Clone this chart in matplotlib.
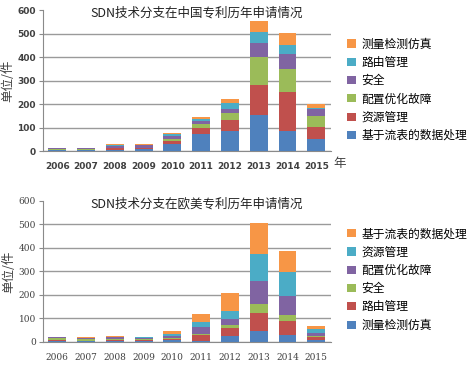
import numpy as np
import matplotlib
matplotlib.use('Agg')
import matplotlib.pyplot as plt

plt.rcParams['font.family'] = ['Noto Sans CJK SC', 'DejaVu Sans']
plt.rcParams['axes.unicode_minus'] = False

years = ['2006', '2007', '2008', '2009', '2010', '2011', '2012', '2013', '2014', '2015']
colors = ['#4F81BD', '#C0504D', '#9BBB59', '#8064A2', '#4BACC6', '#F79646']

# 中国（自下而上）
cn_names = ['基于流表的数据处理', '资源管理', '配置优化故障', '安全', '路由管理', '测量检测仿真']
cn_flow = [4, 4, 6, 8, 32, 72, 86, 152, 86, 53]
cn_res = [2, 2, 6, 3, 12, 24, 48, 127, 165, 50]
cn_cfg = [2, 2, 3, 4, 8, 21, 28, 120, 99, 47]
cn_sec = [5, 5, 8, 10, 12, 11, 16, 61, 61, 28]
cn_route = [1, 1, 2, 2, 8, 9, 27, 48, 41, 6]
cn_meas = [1, 1, 3, 1, 6, 8, 18, 47, 49, 18]

# 欧美（自下而上）
eu_names = ['测量检测仿真', '路由管理', '安全', '配置优化故障', '资源管理', '基于流表的数据处理']
eu_meas = [3, 3, 4, 5, 8, 5, 23, 48, 30, 8]
eu_route = [3, 2, 6, 3, 4, 25, 35, 76, 60, 12]
eu_sec = [10, 9, 3, 3, 3, 5, 14, 37, 25, 4]
eu_cfg = [3, 3, 6, 6, 12, 28, 24, 99, 80, 15]
eu_res = [2, 1, 3, 2, 8, 22, 37, 114, 103, 14]
eu_flow = [1, 2, 3, 2, 10, 33, 74, 132, 88, 15]

cn_data = [cn_flow, cn_res, cn_cfg, cn_sec, cn_route, cn_meas]
eu_data = [eu_meas, eu_route, eu_sec, eu_cfg, eu_res, eu_flow]

fig = plt.figure(figsize=(4.71, 3.72), dpi=100)
ax1 = fig.add_axes([0.091, 0.594, 0.611, 0.379])
ax2 = fig.add_axes([0.091, 0.081, 0.611, 0.379])

x = np.arange(len(years))


def draw(ax, data, names, title, tick_font, legend_top):
    bottom = np.zeros(len(years))
    handles = []
    for vals, c, n in zip(data, colors, names):
        b = ax.bar(x, vals, 0.62, bottom=bottom, color=c, label=n, zorder=3)
        handles.append(b)
        bottom += np.array(vals)
    ax.set_xlim(-0.5, 9.5)
    ax.set_ylim(0, 600)
    ax.set_yticks(range(0, 601, 100))
    ax.set_xticks(x)
    bold = 'bold' if tick_font == 'DejaVu Sans' else 'normal'
    ax.set_xticklabels(years, fontsize=6.5, family=tick_font,
                       fontweight=bold, color='#404040')
    for lab in ax.get_yticklabels():
        lab.set_fontsize(6.5)
        lab.set_family(tick_font)
        lab.set_color('#404040')
        lab.set_fontweight(bold)
    ax.grid(axis='y', color='#9a9a9a', linewidth=1.0, zorder=0)
    # 顶部600处没有网格线
    ax.yaxis.get_gridlines()[-1].set_visible(False)
    for s in ['top', 'right']:
        ax.spines[s].set_visible(False)
    ax.spines['left'].set_color('#8a8a8a')
    ax.spines['bottom'].set_color('#8a8a8a')
    ax.tick_params(axis='x', length=0, pad=8)
    ax.tick_params(axis='y', length=3, color='#8a8a8a', pad=2)
    ax.set_ylabel('单位/件', fontsize=9, color='#404040', labelpad=2)
    ax.text(0.535, 0.975, title, transform=ax.transAxes, fontsize=9,
            color='#222222', ha='center', va='center', zorder=5)
    fig.legend(handles[::-1], names[::-1], loc='upper left',
               bbox_to_anchor=(0.725, legend_top), frameon=False,
               fontsize=8.5, handlelength=0.7, handleheight=0.7,
               handletextpad=0.5, labelspacing=0.45, borderpad=0)


draw(ax1, cn_data, cn_names, 'SDN技术分支在中国专利历年申请情况', 'DejaVu Sans', 0.915)
draw(ax2, eu_data, eu_names, 'SDN技术分支在欧美专利历年申请情况', 'DejaVu Serif', 0.405)

ax1.text(1.01, -0.085, '年', transform=ax1.transAxes, fontsize=9, color='#404040',
         va='center', ha='left')

fig.savefig('out.png', dpi=100)
